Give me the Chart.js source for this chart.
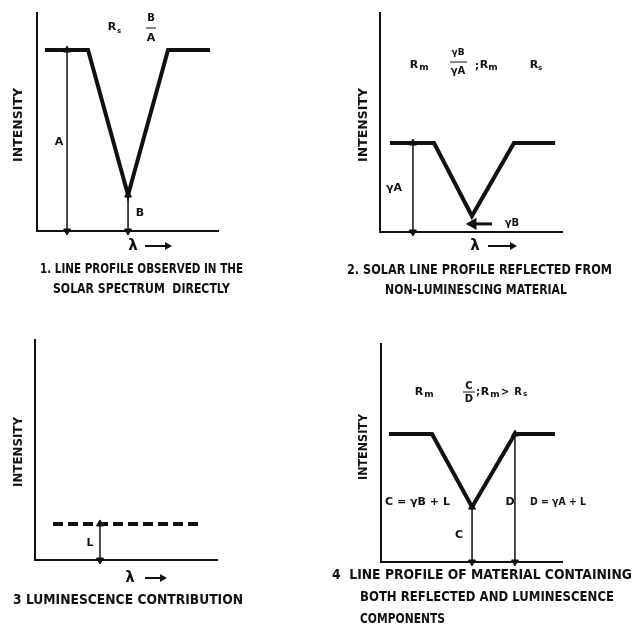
<!DOCTYPE html>
<html>
<head>
<meta charset="utf-8">
<script src="https://cdn.jsdelivr.net/npm/chart.js"></script>
<style>
  body { margin: 0; background: #fff; }
  .panel { position: absolute; width: 317px; height: 317px; }
</style>
</head>
<body>
<div class="panel" style="left:0;top:0"><canvas id="p1" width="317" height="317"></canvas></div>
<div class="panel" style="left:317px;top:0"><canvas id="p2" width="317" height="317"></canvas></div>
<div class="panel" style="left:0;top:317px"><canvas id="p3" width="317" height="317"></canvas></div>
<div class="panel" style="left:317px;top:317px"><canvas id="p4" width="317" height="317"></canvas></div>
<script>
// wavelength (0-10) and intensity (0-10)
const p1Wave = [0.44, 2.82, 5.03, 7.24, 9.56];
const p1Inten = [8.3, 8.3, 1.65, 8.3, 8.3];
const p2Wave = [0.55, 2.97, 5.05, 7.36, 9.62];
const p2Inten = [4.06, 4.06, 0.73, 4.06, 4.06];
const p3Wave = [0.99, 9.18];
const p3Inten = [1.64, 1.64];
const p4Wave = [0.44, 2.82, 5.03, 7.40, 9.61];
const p4Inten = [5.87, 5.87, 2.52, 5.87, 5.87];

// double arrows: [wavelength, from, to]
const p1Arrows = [[1.66, 0, 8.3], [5.03, 0, 1.65]];
const p2Arrows = [[1.81, 0, 4.06]];
const p3Arrows = [[3.57, 0, 1.64]];
const p4Arrows = [[5.03, 0, 2.52], [7.40, 0, 5.87]];

// the little "<- yB" pointer in panel 2
const p2PointerWave = [6.15, 5.11];
const p2PointerInten = [0.37, 0.37];

const INK = '#111';

function profile(xs, ys, dash) {
    return {
        data: xs.map((x, i) => ({ x: x, y: ys[i] })),
        showLine: true,
        borderColor: INK,
        borderWidth: 4,
        borderDash: dash || [],
        borderJoinStyle: 'miter',
        pointRadius: 0,
        clip: false
    };
}

function arrow(a) {
    return {
        data: [{ x: a[0], y: a[1] }, { x: a[0], y: a[2] }],
        showLine: true,
        borderColor: INK,
        borderWidth: 1.5,
        pointStyle: 'triangle',
        pointRadius: 4,
        pointRotation: [180, 0],
        pointBackgroundColor: INK,
        pointBorderColor: INK,
        pointBorderWidth: 1,
        clip: false
    };
}

// text and small marks, in canvas pixels of each panel
const notes = {
    p1: [
        { t: 'R', x: 112, y: 27, s: 11 }, { t: 's', x: 119, y: 31, s: 7 },
        { t: 'B', x: 151, y: 18, s: 10 }, { line: [146, 28, 156, 28] }, { t: 'A', x: 151, y: 38, s: 11 },
        { t: 'A', x: 59, y: 142, s: 11 },
        { t: 'B', x: 140, y: 213, s: 11 },
        { t: 'λ', x: 133, y: 246, s: 15 }, { arrow: [145, 172, 246] },
        { t: 'INTENSITY', x: 19, y: 125, s: 12, w: 74, rot: true },
        { t: '1. LINE PROFILE OBSERVED IN THE', x: 40, y: 269, s: 14, w: 203, align: 'left' },
        { t: 'SOLAR SPECTRUM  DIRECTLY', x: 53, y: 289, s: 14, w: 177, align: 'left' }
    ],
    p2: [
        { t: 'R', x: 97, y: 65, s: 11 }, { t: 'm', x: 107, y: 68, s: 9 },
        { t: 'γB', x: 141, y: 53, s: 9 }, { line: [133, 62, 150, 62] }, { t: 'γA', x: 141, y: 71, s: 10 },
        { t: ';', x: 160, y: 66, s: 10 },
        { t: 'R', x: 167, y: 65, s: 11 }, { t: 'm', x: 176, y: 68, s: 9 },
        { t: 'R', x: 217, y: 65, s: 11 }, { t: 's', x: 223, y: 68, s: 7 },
        { t: 'γA', x: 77, y: 188, s: 11 },
        { t: 'γB', x: 195, y: 223, s: 10 },
        { t: 'λ', x: 158, y: 246, s: 15 }, { arrow: [171, 200, 246] },
        { t: 'INTENSITY', x: 47, y: 125, s: 12, w: 74, rot: true },
        { t: '2. SOLAR LINE PROFILE REFLECTED FROM', x: 30, y: 270, s: 14, w: 265, align: 'left' },
        { t: 'NON-LUMINESCING MATERIAL', x: 68, y: 290, s: 14, w: 182, align: 'left' }
    ],
    p3: [
        { t: 'L', x: 90, y: 226, s: 11 },
        { t: 'λ', x: 130, y: 261, s: 15 }, { arrow: [145, 167, 261] },
        { t: 'INTENSITY', x: 19, y: 135, s: 12, w: 70, rot: true },
        { t: '3 LUMINESCENCE CONTRIBUTION', x: 13, y: 283, s: 14, w: 230, align: 'left' }
    ],
    p4: [
        { t: 'R', x: 102, y: 75, s: 11 }, { t: 'm', x: 112, y: 78, s: 9 },
        { t: 'C', x: 152, y: 69, s: 10 }, { line: [146, 75, 158, 75] }, { t: 'D', x: 152, y: 82, s: 10 },
        { t: ';', x: 161, y: 75, s: 10 },
        { t: 'R', x: 168, y: 75, s: 11 }, { t: 'm', x: 178, y: 78, s: 9 },
        { t: '>', x: 188, y: 75, s: 10 },
        { t: 'R', x: 201, y: 75, s: 10 }, { t: 's', x: 208, y: 77, s: 7 },
        { t: 'C = γB + L', x: 68, y: 185, s: 11, w: 65, align: 'left' },
        { t: 'D', x: 193, y: 185, s: 11 },
        { t: 'D = γA + L', x: 213, y: 185, s: 11, w: 56, align: 'left' },
        { t: 'C', x: 142, y: 218, s: 11 },
        { t: 'INTENSITY', x: 47, y: 130, s: 12, w: 66, rot: true },
        { t: '4  LINE PROFILE OF MATERIAL CONTAINING', x: 15, y: 258, s: 14, w: 300, align: 'left' },
        { t: 'BOTH REFLECTED AND LUMINESCENCE', x: 43, y: 280, s: 14, w: 254, align: 'left' },
        { t: 'COMPONENTS', x: 43, y: 302, s: 14, w: 85, align: 'left' }
    ]
};

const notesPlugin = {
    id: 'notes',
    afterDraw(chart) {
        const ctx = chart.ctx;
        (notes[chart.canvas.id] || []).forEach(it => {
            ctx.save();
            ctx.fillStyle = INK;
            ctx.strokeStyle = INK;
            if (it.line) {
                ctx.lineWidth = 1;
                ctx.beginPath();
                ctx.moveTo(it.line[0], it.line[1]);
                ctx.lineTo(it.line[2], it.line[3]);
                ctx.stroke();
            } else if (it.arrow) {
                const [x1, x2, y] = it.arrow;
                ctx.lineWidth = 2;
                ctx.beginPath();
                ctx.moveTo(x1, y);
                ctx.lineTo(x2 - 5, y);
                ctx.stroke();
                ctx.beginPath();
                ctx.moveTo(x2, y);
                ctx.lineTo(x2 - 7, y - 4);
                ctx.lineTo(x2 - 7, y + 4);
                ctx.closePath();
                ctx.fill();
            } else {
                ctx.font = 'bold ' + (it.s || 11) + 'px "DejaVu Sans", sans-serif';
                ctx.textBaseline = 'middle';
                ctx.textAlign = it.align || 'center';
                ctx.translate(it.x, it.y);
                if (it.rot) ctx.rotate(-Math.PI / 2);
                if (it.w) ctx.scale(it.w / ctx.measureText(it.t).width, 1);
                ctx.fillText(it.t, 0, 0);
            }
            ctx.restore();
        });
    }
};

function axis(fit) {
    return {
        min: 0,
        max: 10,
        grid: { display: false },
        ticks: { display: false },
        border: { display: true, color: INK, width: 2 },
        afterFit: fit
    };
}

// area = [left, right, top, bottom] of the axes box inside the panel
function makePanel(id, area, datasets) {
    const ctx = document.getElementById(id).getContext('2d');
    return new Chart(ctx, {
        type: 'scatter',
        data: { datasets: datasets },
        options: {
            responsive: false,
            animation: false,
            events: [],
            layout: { padding: { left: area[0], right: 317 - area[1], top: area[2], bottom: 317 - area[3] } },
            plugins: { legend: { display: false }, tooltip: { enabled: false } },
            scales: {
                x: axis(s => { s.height = 0; }),
                y: axis(s => { s.width = 0; })
            }
        },
        plugins: [notesPlugin]
    });
}

const pointer = {
    data: p2PointerWave.map((x, i) => ({ x: x, y: p2PointerInten[i] })),
    showLine: true,
    borderColor: INK,
    borderWidth: 3,
    pointStyle: 'triangle',
    pointRadius: [0, 4],
    pointRotation: [0, 270],
    pointBackgroundColor: INK,
    pointBorderColor: INK,
    clip: false
};

makePanel('p1', [37, 218, 13, 231], [profile(p1Wave, p1Inten)].concat(p1Arrows.map(arrow)));
makePanel('p2', [63, 245, 13, 232], [profile(p2Wave, p2Inten), pointer].concat(p2Arrows.map(arrow)));
makePanel('p3', [35, 217, 23, 243], [profile(p3Wave, p3Inten, [10, 5])].concat(p3Arrows.map(arrow)));
makePanel('p4', [64, 245, 27, 245], [profile(p4Wave, p4Inten)].concat(p4Arrows.map(arrow)));
</script>
</body>
</html>
